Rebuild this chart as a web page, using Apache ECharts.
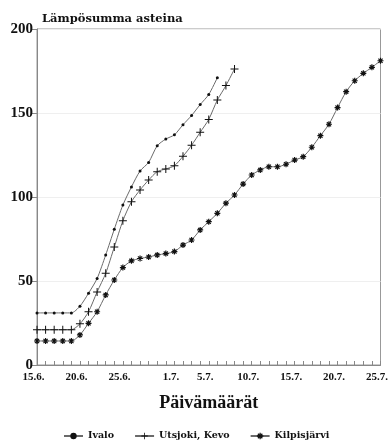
<!DOCTYPE html>
<html>
<head>
<meta charset="utf-8">
<script src="https://cdn.jsdelivr.net/npm/echarts@6/dist/echarts.min.js"></script>
<style>html,body{margin:0;padding:0;background:#fff}#c{width:391px;height:448px}</style>
</head>
<body>
<div id="c"></div>
<script>
const categories = ["15.6.","16.6.","17.6.","18.6.","19.6.","20.6.","21.6.","22.6.","23.6.","24.6.","25.6.","26.6.","27.6.","28.6.","29.6.","30.6.",
  "1.7.","2.7.","3.7.","4.7.","5.7.","6.7.","7.7.","8.7.","9.7.","10.7.","11.7.","12.7.","13.7.","14.7.","15.7.","16.7.","17.7.","18.7.","19.7.","20.7.","21.7.","22.7.","23.7.","24.7.","25.7."];
const tickLabels = ["15.6.","20.6.","25.6.","1.7.","5.7.","10.7.","15.7.","20.7.","25.7."];
const yTicks = [0,50,100,150,200];
const ivalo = [31,31,31,31,31,35,42.7,51.5,65.5,80.8,95.2,106,115.5,120.6,130.5,134.5,137,143,148.5,155,161,171];
const utsjoki = [21,21,21,21,21,24.5,31.7,43.5,54.6,70.2,85.9,97.2,104.2,110.1,115.1,116.7,118.6,124.2,130.8,138.5,146.2,157.7,166.3,176.2];
const kilpis = [14.3,14.3,14.3,14.3,14.3,17.9,24.8,31.7,41.7,50.6,58,62,63.4,64.3,65.5,66.3,67.5,71.4,74.4,80.4,85.3,90.3,96.3,101.2,107.7,113.1,116.1,118,118,119.5,122,124,129.6,136.5,143.3,153.2,162.7,169.2,173.6,177.2,181.1];
const seriesNames = ["Ivalo","Utsjoki, Kevo","Kilpisjärvi"];

const plusPath = 'path://M-0.5,-4h1v3.5h3.5v1h-3.5v3.5h-1v-3.5h-3.5v-1h3.5z';
const starPath = 'path://M-0.6,-3h1.2v6h-1.2z M-3,-0.6h6v1.2h-6z M-2.5,-1.7L-1.7,-2.5L2.5,1.7L1.7,2.5z M1.7,-2.5L2.5,-1.7L-1.7,2.5L-2.5,1.7z M0,-2L2,0L0,2L-2,0z';

const chart = echarts.init(document.getElementById('c'), null, {renderer:'canvas'});
const lineColor = '#6a6a6a';
function mk(name, data, symbol, size) {
  return {
    name: name, type: 'line', data: data, symbol: symbol, symbolSize: size,
    smooth: 0.25, showSymbol: true, showAllSymbol: true,
    lineStyle: {color: lineColor, width: 1},
    itemStyle: {color: '#111'},
    emphasis: {disabled: true}
  };
}
chart.setOption({
  animation: false,
  title: {
    text: 'Lämpösumma asteina', left: 37, top: 8,
    textStyle: {fontFamily: 'DejaVu Serif', fontWeight: 'bold', fontSize: 11.5, color: '#111'}
  },
  grid: {left: 37, right: 10, top: 29, bottom: 83, show: true, borderColor: '#999', borderWidth: 1, backgroundColor: 'transparent'},
  legend: {
    data: seriesNames, left: 58, bottom: 2, itemWidth: 19, itemHeight: 8, itemGap: 20,
    textStyle: {fontFamily: 'DejaVu Serif', fontWeight: 'bold', fontSize: 9.5, color: '#111'}
  },
  xAxis: {
    type: 'category', data: categories, boundaryGap: false,
    name: 'Päivämäärät', nameLocation: 'middle', nameGap: 29,
    nameTextStyle: {fontFamily: 'Liberation Serif', fontWeight: 'bold', fontSize: 18, color: '#111'},
    axisLine: {lineStyle: {color: '#888', width: 1}},
    axisTick: {show: true, inside: true, length: 4, interval: 0, lineStyle: {color: '#888'}},
    axisLabel: {
      interval: function (i, v) { return tickLabels.indexOf(v) >= 0; },
      fontFamily: 'Liberation Serif', fontWeight: 'bold', fontSize: 11, color: '#111', margin: 7,
      padding: [0, 7, 0, 0]
    },
    splitLine: {show: false}
  },
  yAxis: {
    type: 'value', min: yTicks[0], max: yTicks[yTicks.length - 1], interval: 50,
    axisLine: {show: true, lineStyle: {color: '#888', width: 1}},
    axisTick: {show: true, inside: false, length: 5, lineStyle: {color: '#888'}},
    axisLabel: {fontFamily: 'Liberation Serif', fontWeight: 'bold', fontSize: 15, color: '#111', margin: 4},
    splitLine: {show: true, lineStyle: {color: '#efefef', width: 1}}
  },
  series: [
    mk(seriesNames[0], ivalo, 'circle', 3),
    mk(seriesNames[1], utsjoki, plusPath, 8),
    mk(seriesNames[2], kilpis, starPath, 6)
  ]
});
</script>
</body>
</html>
